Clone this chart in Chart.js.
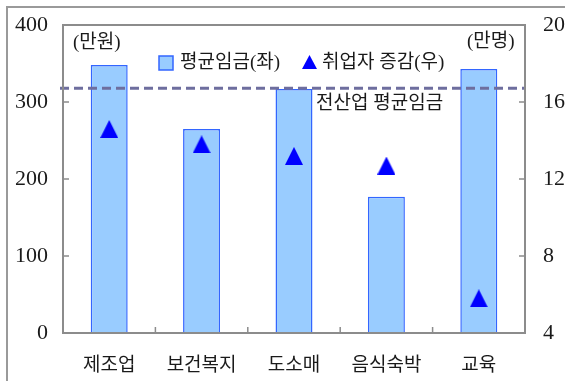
<!DOCTYPE html>
<html>
<head>
<meta charset="utf-8">
<script src="https://cdn.jsdelivr.net/npm/chart.js@4.4.1/dist/chart.umd.min.js"></script>
<style>
  html, body { margin: 0; padding: 0; background: #ffffff; }
  #wrap { width: 565px; height: 381px; position: relative; }
</style>
</head>
<body>
<div id="wrap"><canvas id="chart" width="565" height="381"></canvas></div>
<script>
// Industries on the category axis
const categories = ['제조업', '보건복지', '도소매', '음식숙박', '교육'];
// Average monthly wage (left axis, 만원)
const avgWage = [348, 265, 317, 177, 343];
// Change in number of employed (right axis, 만명)
const employmentChange = [14.6, 13.8, 13.2, 12.7, 5.8];
// All-industry average wage reference line
const allIndustryWage = 318;
// Axis tick values
const leftTicks = [0, 100, 200, 300, 400];
const rightTicks = [4, 8, 12, 16, 20];

const seriesNames = ['평균임금(좌)', '취업자 증감(우)'];
const unitLeft = '(만원)';
const unitRight = '(만명)';
const refLineLabel = '전산업 평균임금';

const BAR_FILL = '#99ccff';
const BAR_EDGE = '#3366ff';
const MARK = '#0000ff';
const AXIS = '#8c8c8c';
const REF = '#6e6e9e';
const TEXT = '#1a1a1a';
const NUM_FONT = "'Liberation Serif', serif";
const KR_FONT = "'Noto Sans CJK KR', sans-serif";

// Triangle marker sprite
function makeTriangle(w, h) {
  const c = document.createElement('canvas');
  c.width = w; c.height = h;
  const g = c.getContext('2d');
  g.fillStyle = MARK;
  g.beginPath();
  g.moveTo(w / 2, 0);
  g.lineTo(w, h);
  g.lineTo(0, h);
  g.closePath();
  g.fill();
  return c;
}
const triMark = makeTriangle(18, 18);
const triLegend = makeTriangle(15, 14);

// keep the plot box edges fixed regardless of tick label size
function fixVertical(width) {
  return function (s) {
    s.width = width;
    s.paddingTop = 0;
    s.paddingBottom = 0;
  };
}

const decorations = {
  id: 'decorations',
  beforeDraw(chart) {
    const ctx = chart.ctx;
    ctx.save();
    // outer frame (top and left edges)
    ctx.strokeStyle = '#9a9a9a';
    ctx.lineWidth = 2;
    ctx.beginPath();
    ctx.moveTo(7, 381);
    ctx.lineTo(7, 7);
    ctx.lineTo(565, 7);
    ctx.stroke();
    ctx.restore();
  },
  afterDatasetsDraw(chart) {
    const ctx = chart.ctx;
    const a = chart.chartArea;
    const y = chart.scales.y;
    const y2 = chart.scales.y2;
    const x = chart.scales.x;
    ctx.save();

    // all-industry average line
    const ry = y.getPixelForValue(allIndustryWage);
    ctx.strokeStyle = REF;
    ctx.lineWidth = 3;
    ctx.setLineDash([9, 5]);
    ctx.beginPath();
    ctx.moveTo(a.left - 3, ry);
    ctx.lineTo(a.right, ry);
    ctx.stroke();
    ctx.setLineDash([]);

    // plot box
    ctx.strokeStyle = AXIS;
    ctx.lineWidth = 2;
    ctx.strokeRect(a.left, a.top, a.right - a.left, a.bottom - a.top);

    // inward tick marks
    ctx.lineWidth = 1.5;
    ctx.beginPath();
    leftTicks.forEach(v => {
      const p = y.getPixelForValue(v);
      ctx.moveTo(a.left, p); ctx.lineTo(a.left + 6, p);
    });
    rightTicks.forEach(v => {
      const p = y2.getPixelForValue(v);
      ctx.moveTo(a.right, p); ctx.lineTo(a.right - 6, p);
    });
    for (let i = 1; i < categories.length; i++) {
      const p = (x.getPixelForValue(i - 1) + x.getPixelForValue(i)) / 2;
      ctx.moveTo(p, a.bottom); ctx.lineTo(p, a.bottom - 6);
    }
    ctx.stroke();

    // unit labels and reference label
    ctx.fillStyle = TEXT;
    ctx.textBaseline = 'middle';
    ctx.font = `19px 'Liberation Serif', ${KR_FONT}`;
    ctx.textAlign = 'left';
    ctx.fillText(unitLeft, 73, 43);
    ctx.fillText(unitRight, 467, 42);
    ctx.fillText(refLineLabel, 316, 104);

    // legend
    ctx.fillStyle = BAR_FILL;
    ctx.strokeStyle = BAR_EDGE;
    ctx.lineWidth = 1.5;
    ctx.fillRect(159, 56, 14, 14);
    ctx.strokeRect(159, 56, 14, 14);
    ctx.fillStyle = TEXT;
    ctx.fillText(seriesNames[0], 180, 63);
    ctx.drawImage(triLegend, 302, 55);
    ctx.fillText(seriesNames[1], 322, 63);
    ctx.restore();
  }
};

new Chart(document.getElementById('chart'), {
  data: {
    labels: categories,
    datasets: [
      {
        type: 'scatter',
        label: seriesNames[1],
        data: employmentChange.map((v, i) => ({ x: categories[i], y: v })),
        yAxisID: 'y2',
        xAxisID: 'x',
        showLine: false,
        pointStyle: triMark,
        pointRadius: 9,
        order: 0
      },
      {
        type: 'bar',
        label: seriesNames[0],
        data: avgWage,
        yAxisID: 'y',
        backgroundColor: BAR_FILL,
        borderColor: BAR_EDGE,
        borderWidth: 1.5,
        barPercentage: 0.4,
        categoryPercentage: 1,
        order: 1
      }
    ]
  },
  options: {
    responsive: false,
    animation: false,
    events: [],
    layout: { padding: { top: 25, left: 0, right: 0, bottom: 0 } },
    plugins: { legend: { display: false }, tooltip: { enabled: false } },
    scales: {
      x: {
        type: 'category',
        labels: categories,
        offset: true,
        grid: { display: false, drawTicks: false },
        border: { display: false },
        ticks: { color: TEXT, font: { family: KR_FONT, size: 19 }, padding: 19, maxRotation: 0 },
        afterFit(s) { s.height = 48; s.paddingLeft = 0; s.paddingRight = 0; }
      },
      y: {
        position: 'left',
        min: 0, max: 400,
        afterBuildTicks(s) { s.ticks = leftTicks.map(v => ({ value: v })); },
        grid: { display: false, drawTicks: false },
        border: { display: false },
        ticks: { color: TEXT, font: { family: NUM_FONT, size: 22 }, padding: 15 },
        afterFit: fixVertical(63)
      },
      y2: {
        position: 'right',
        min: 4, max: 20,
        afterBuildTicks(s) { s.ticks = rightTicks.map(v => ({ value: v })); },
        grid: { display: false, drawTicks: false },
        border: { display: false },
        ticks: { color: TEXT, font: { family: NUM_FONT, size: 22 }, padding: 18 },
        afterFit: fixVertical(40)
      }
    }
  },
  plugins: [decorations]
});
</script>
</body>
</html>
